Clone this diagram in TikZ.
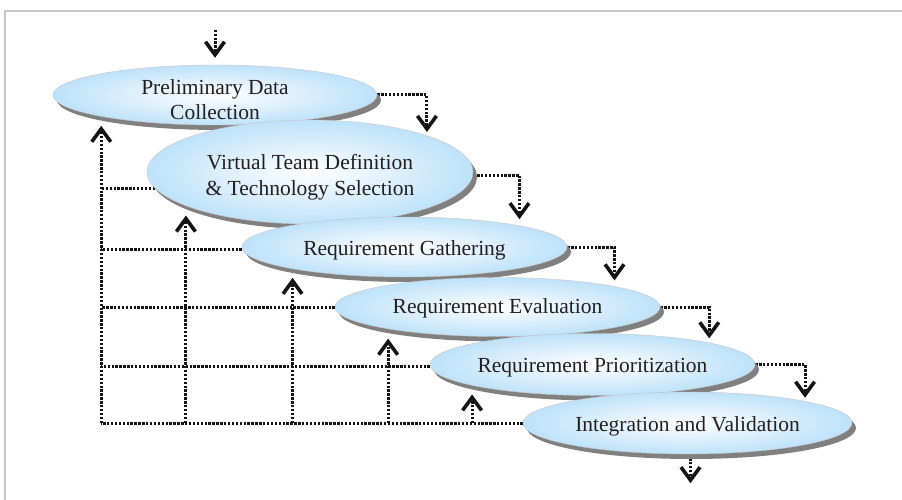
\documentclass[tikz,border=0pt]{standalone}
\usepackage{fontspec}
\setmainfont{Liberation Serif}
\usetikzlibrary{arrows.meta,shapes.geometric,shadows,calc}
\definecolor{ellblue}{RGB}{190,226,250}
\definecolor{shadowgray}{RGB}{128,128,128}
\definecolor{framegray}{RGB}{200,200,200}
\definecolor{ink}{RGB}{35,31,32}
\definecolor{lineink}{RGB}{20,20,20}
\pgfdeclarelayer{bg}
\pgfsetlayers{bg,main}
\tikzset{
  ell/.style={ellipse, inner sep=0pt, draw=gray!45, line width=0.4pt,
    inner color=white, outer color=ellblue,
    general shadow={fill=shadowgray, shadow xshift=4pt, shadow yshift=-5pt}},
  lbl/.style={font=\fontsize{21.5}{25.5}\selectfont, text=ink, align=center, inner sep=0pt},
  dline/.style={draw=lineink, line width=3pt, dash pattern=on 2.4pt off 1.5pt},
  arr/.style={dline, -{Straight Barb[length=13pt,width=19pt,line width=3.6pt 0]}},
}
\begin{document}
\begin{tikzpicture}[x=1pt,y=-1pt]
\useasboundingbox (0,0) rectangle (902,500);

\node[ell, minimum width=324pt, minimum height=60pt]  (e1) at (215,95) {};
\node[lbl] (t1) at ([yshift=-4.5pt]e1.center) {Preliminary Data\\Collection};
\node[ell, minimum width=326pt, minimum height=104pt] (e2) at (310,172) {};
\node[lbl] (t2) at ([yshift=-5.5pt]e2.center) {Virtual Team Definition\\\& Technology Selection};
\node[ell, minimum width=325pt, minimum height=60pt]  (e3) at (404.5,247) {};
\node[lbl, anchor=base] (t3) at ([yshift=-8pt]e3.center) {Requirement Gathering};
\node[ell, minimum width=325pt, minimum height=59pt]  (e4) at (497.5,307) {};
\node[lbl, anchor=base] (t4) at ([yshift=-6.5pt]e4.center) {Requirement Evaluation};
\node[ell, minimum width=325pt, minimum height=62pt]  (e5) at (592.5,364.5) {};
\node[lbl, anchor=base] (t5) at ([yshift=-7.5pt]e5.center) {Requirement Prioritization};
\node[ell, minimum width=329pt, minimum height=62pt]  (e6) at (687.5,423) {};
\node[lbl, anchor=base] (t6) at ([yshift=-8pt]e6.center) {Integration and Validation};

\begin{pgfonlayer}{bg}
  \fill[white] (0,0) rectangle (902,500);
  \draw[framegray, line width=2pt] (5,500) -- (5,11) -- (902,11);
  % input and output
  \coordinate (in) at ([yshift=35pt]e1.north);
  \draw[arr, shorten >=7pt] (in) -- (e1.north);
  \coordinate (out) at ([xshift=3pt,yshift=-29pt]e6.south);
  \draw[arr] ([xshift=3pt]e6.south) -- (out);
  % forward steps
  \draw[arr, shorten >=4pt] (e1.east) -| ([xshift=-1pt]e2.17.8);
  \draw[arr, shorten >=7pt] ([yshift=-3pt]e2.east) -| ([xshift=-3pt]e3.10.7);
  \draw[arr, shorten >=6pt] (e3.east) -| (e4.10.2);
  \draw[arr, shorten >=5pt] (e4.east) -| ([xshift=-3pt]e5.10.4);
  \draw[arr, shorten >=4pt] (e5.east) -| ([xshift=-3pt]e6.10.8);
  % feedback bus
  \coordinate (f1) at ([xshift=4pt]e1.190.4);
  \coordinate (f2) at ([xshift=1pt]e2.195.5);
  \coordinate (f3) at ([xshift=6pt]e3.190.9);
  \coordinate (f4) at ([xshift=2pt]e4.191.5);
  \coordinate (f5) at ([xshift=5pt]e5.189.3);
  \coordinate (b0) at (f1 |- e6.west);
  \draw[dline] (e6.west) -- (b0);
  \draw[arr, shorten >=10pt] (b0) -- (f1);
  \draw[arr, shorten >=10pt] (f2 |- b0) -- (f2);
  \draw[arr, shorten >=10pt] (f3 |- b0) -- (f3);
  \draw[arr, shorten >=10pt] (f4 |- b0) -- (f4);
  \draw[arr, shorten >=10pt] (f5 |- b0) -- (f5);
  \draw[dline] (e2.186) -- (e2.186 -| b0);
  \draw[dline] ([yshift=-2pt]e3.west) -- ([yshift=-2pt]e3.west -| b0);
  \draw[dline] (e4.west) -- (e4.west -| b0);
  \draw[dline] ([yshift=-1.5pt]e5.west) -- ([yshift=-1.5pt]e5.west -| b0);
\end{pgfonlayer}
\end{tikzpicture}
\end{document}
